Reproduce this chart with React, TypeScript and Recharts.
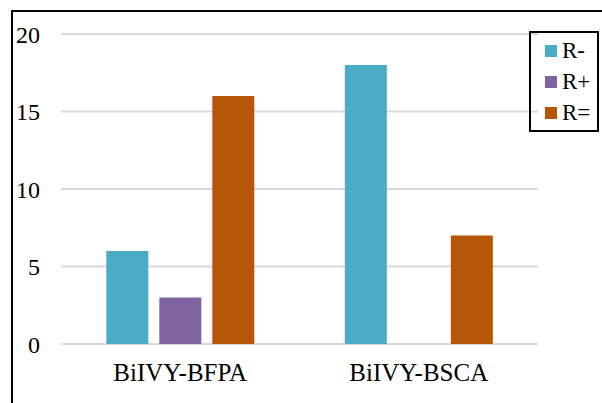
import React from 'react';
import { BarChart, Bar, XAxis, YAxis, CartesianGrid, Legend } from 'recharts';

const categories = ['BiIVY-BFPA', 'BiIVY-BSCA'];
const rMinus = [6, 18];
const rPlus = [3, 0];
const rEqual = [16, 7];
const yTicks = [0, 5, 10, 15, 20];

const seriesNames = ['R-', 'R+', 'R='];
const seriesColors = ['#4BACC6', '#8064A2', '#B65708'];

const data = categories.map((name, i) => ({
  name,
  'R-': rMinus[i],
  'R+': rPlus[i],
  'R=': rEqual[i],
}));

const font = "'Times New Roman', 'Liberation Serif', Times, serif";

function BoxLegend({ payload }: any) {
  const items = [...(payload || [])].sort(
    (a: any, b: any) => seriesNames.indexOf(a.value) - seriesNames.indexOf(b.value)
  );
  return (
    <div
      style={{
        border: '2px solid #000',
        width: 66,
        padding: '2px 0',
        boxSizing: 'content-box',
        fontFamily: font,
      }}
    >
      {items.map((p: any) => (
        <div key={p.value} style={{ display: 'flex', alignItems: 'center', height: 31 }}>
          <span style={{ width: 12, height: 12, background: p.color, marginLeft: 14, marginRight: 5 }} />
          <span style={{ fontSize: 23, color: '#000', lineHeight: '23px' }}>{p.value}</span>
        </div>
      ))}
    </div>
  );
}

export default function App() {
  return (
    <div style={{ position: 'absolute', left: 0, top: 0, width: 602, height: 403, overflow: 'hidden', background: '#fff', fontFamily: font }}>
      <div
        style={{
          position: 'absolute',
          left: 11,
          top: 10,
          width: 700,
          height: 500,
          borderTop: '2px solid #000',
          borderLeft: '2px solid #000',
        }}
      />
      <BarChart
        width={602}
        height={403}
        data={data}
        margin={{ top: 34, right: 64, left: 11, bottom: 9 }}
        barCategoryGap="19%"
        barGap={11}
        style={{ position: 'absolute', left: 0, top: 0, fontFamily: font }}
      >
        <CartesianGrid vertical={false} stroke="#d9d9d9" strokeWidth={2} />
        <XAxis
          dataKey="name"
          height={50}
          axisLine={false}
          tickLine={false}
          tickSize={0}
          tickMargin={19}
          tick={{ fontSize: 25, fill: '#000', fontFamily: font }}
        />
        <YAxis
          width={50}
          domain={[0, 20]}
          ticks={yTicks}
          axisLine={false}
          tickLine={false}
          tickSize={0}
          tickMargin={21}
          tick={{ fontSize: 24, fill: '#000', fontFamily: font }}
        />
        <Legend
          layout="vertical"
          verticalAlign="middle"
          align="center"
          content={<BoxLegend />}
          wrapperStyle={{ left: 529, top: 31, width: 70 }}
        />
        {seriesNames.map((s, i) => (
          <Bar key={s} dataKey={s} fill={seriesColors[i]} isAnimationActive={false} />
        ))}
      </BarChart>
    </div>
  );
}
